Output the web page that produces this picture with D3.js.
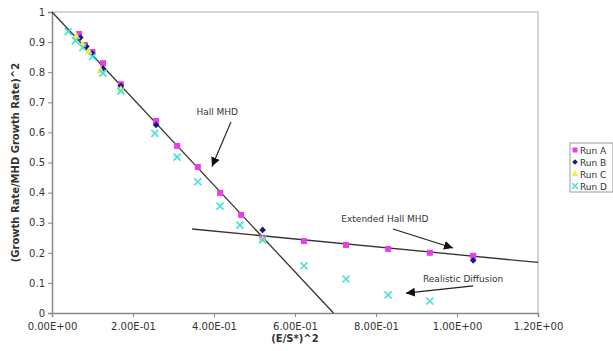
<!DOCTYPE html>
<html>
<head>
<meta charset="utf-8">
<script src="https://cdn.jsdelivr.net/npm/d3@7"></script>
<style>
  body { margin: 0; background: #fff; }
  svg text { font-family: "DejaVu Sans", Verdana, sans-serif; fill: #333; }
</style>
</head>
<body>
<div id="chart"></div>
<script>
// data
const runA = [[0.067,0.927],[0.081,0.89],[0.10,0.867],[0.126,0.83],[0.17,0.76],
  [0.257,0.638],[0.309,0.555],[0.36,0.485],[0.415,0.399],[0.467,0.326],[0.52,0.25],
  [0.622,0.239],[0.726,0.226],[0.83,0.213],[0.933,0.2],[1.04,0.19]];
const runB = [[0.07,0.915],[0.085,0.885],[0.10,0.862],[0.126,0.812],[0.17,0.755],
  [0.257,0.625],[0.52,0.276],[1.04,0.175]];
const runC = [[0.06,0.918],[0.075,0.892],[0.09,0.868],[0.12,0.805],[0.17,0.742],[0.52,0.243]];
const runD = [[0.04,0.935],[0.058,0.905],[0.076,0.882],[0.1,0.852],[0.126,0.797],[0.17,0.737],
  [0.254,0.597],[0.309,0.518],[0.36,0.436],[0.415,0.355],[0.464,0.292],[0.52,0.243],
  [0.622,0.157],[0.726,0.113],[0.83,0.06],[0.933,0.04]];
const hallLine = [[0,1],[0.695,0]];
const extLine = [[0.346,0.279],[1.2,0.168]];
const xTicks = [0,0.2,0.4,0.6,0.8,1.0,1.2];
const yTicks = [0,0.1,0.2,0.3,0.4,0.5,0.6,0.7,0.8,0.9,1];
const notes = [
  {text:"Hall MHD", at:[0.408,0.667], from:[0.442,0.635], to:[0.395,0.487]},
  {text:"Extended Hall MHD", at:[0.822,0.313], from:[0.842,0.279], to:[0.99,0.216]},
  {text:"Realistic Diffusion", at:[1.015,0.113], from:[1.04,0.09], to:[0.874,0.066]}
];
const legendNames = ["Run A","Run B","Run C","Run D"];

const width = 613, height = 351;
const margin = {top: 12, right: 75, bottom: 38, left: 52};

const svg = d3.select("#chart").append("svg")
  .attr("width", width).attr("height", height);

const x = d3.scaleLinear().domain([0,1.2]).range([margin.left, width - margin.right]);
const y = d3.scaleLinear().domain([0,1]).range([height - margin.bottom, margin.top]);

// plot frame (light top/right)
svg.append("path")
  .attr("d", `M${x(0)},${y(1)}H${x(1.2)}V${y(0)}`)
  .attr("fill", "none").attr("stroke", "#c8c8c8").attr("stroke-width", 1.5);

const xAxis = svg.append("g")
  .attr("transform", `translate(0,${y(0)})`)
  .call(d3.axisBottom(x).tickValues(xTicks).tickSize(4)
    .tickFormat(d => d3.format(".2e")(d).replace(/e([+-])(\d)$/, "E$10$2").replace("e", "E")));
const yAxis = svg.append("g")
  .attr("transform", `translate(${x(0)},0)`)
  .call(d3.axisLeft(y).tickValues(yTicks).tickSize(4).tickFormat(d3.format("")));

[xAxis, yAxis].forEach(g => {
  g.select(".domain").attr("stroke", "#888").attr("stroke-width", 1.5);
  g.selectAll(".tick line").attr("stroke", "#888");
  g.selectAll("text").attr("font-size", 10).attr("fill", "#444")
    .style("font-family", "'DejaVu Sans', Verdana, sans-serif");
});
xAxis.selectAll("text").attr("dy", "0.95em");

// axis titles
svg.append("text")
  .attr("x", x(0.6)).attr("y", 342)
  .attr("text-anchor", "middle").attr("font-size", 10).attr("font-weight", "bold")
  .text("(E/S*)^2");
svg.append("text")
  .attr("transform", `translate(19,${y(0.5)}) rotate(-90)`)
  .attr("text-anchor", "middle").attr("font-size", 10).attr("font-weight", "bold")
  .text("(Growth Rate/MHD Growth Rate)^2");

// fit lines
const line = d3.line().x(d => x(d[0])).y(d => y(d[1]));
[hallLine, extLine].forEach(l => {
  svg.append("path").attr("d", line(l))
    .attr("fill", "none").attr("stroke", "#333").attr("stroke-width", 1.3);
});

// markers
const marks = svg.append("g");
marks.selectAll(".a").data(runA).join("rect")
  .attr("x", d => x(d[0]) - 3).attr("y", d => y(d[1]) - 3)
  .attr("width", 6).attr("height", 6).attr("fill", "#e83ee8");
marks.selectAll(".b").data(runB).join("path")
  .attr("d", d3.symbol(d3.symbolSquare, 22))
  .attr("transform", d => `translate(${x(d[0])},${y(d[1])}) rotate(45)`)
  .attr("fill", "#1a1a7a");
marks.selectAll(".c").data(runC).join("path")
  .attr("d", d3.symbol(d3.symbolTriangle, 26))
  .attr("transform", d => `translate(${x(d[0])},${y(d[1])})`)
  .attr("fill", "#f0f040");
marks.selectAll(".d").data(runD).join("path")
  .attr("d", d3.symbol(d3.symbolX, 34))
  .attr("transform", d => `translate(${x(d[0])},${y(d[1])})`)
  .attr("fill", "none").attr("stroke", "#44dede").attr("stroke-width", 1.6);

// annotations
svg.append("defs").append("marker")
  .attr("id", "arr").attr("viewBox", "0 0 10 10").attr("refX", 10).attr("refY", 5)
  .attr("markerWidth", 9).attr("markerHeight", 9).attr("markerUnits", "userSpaceOnUse")
  .attr("orient", "auto")
  .append("path").attr("d", "M0,0L10,5L0,10z").attr("fill", "#111");
notes.forEach(n => {
  svg.append("text").attr("x", x(n.at[0])).attr("y", y(n.at[1]) + 3)
    .attr("text-anchor", "middle").attr("font-size", 9).attr("fill", "#333").text(n.text);
  svg.append("line")
    .attr("x1", x(n.from[0])).attr("y1", y(n.from[1]))
    .attr("x2", x(n.to[0])).attr("y2", y(n.to[1]))
    .attr("stroke", "#222").attr("stroke-width", 1.2).attr("marker-end", "url(#arr)");
});

// legend
const lg = svg.append("g").attr("transform", "translate(570,143)");
lg.append("rect").attr("width", 43).attr("height", 49)
  .attr("fill", "#fff").attr("stroke", "#999");
const syms = [
  g => g.append("rect").attr("x", -2.5).attr("y", -2.5).attr("width", 5).attr("height", 5).attr("fill", "#e83ee8"),
  g => g.append("path").attr("d", d3.symbol(d3.symbolSquare, 16)).attr("transform", "rotate(45)").attr("fill", "#1a1a7a"),
  g => g.append("path").attr("d", d3.symbol(d3.symbolTriangle, 20)).attr("fill", "#f0f040"),
  g => g.append("path").attr("d", d3.symbol(d3.symbolX, 24)).attr("stroke", "#44dede").attr("stroke-width", 1.4)
];
legendNames.forEach((name, i) => {
  const row = lg.append("g").attr("transform", `translate(5,${7 + i * 12})`);
  syms[i](row);
  row.append("text").attr("x", 5).attr("y", 3.5).attr("font-size", 9).attr("fill", "#333").text(name);
});
</script>
</body>
</html>
